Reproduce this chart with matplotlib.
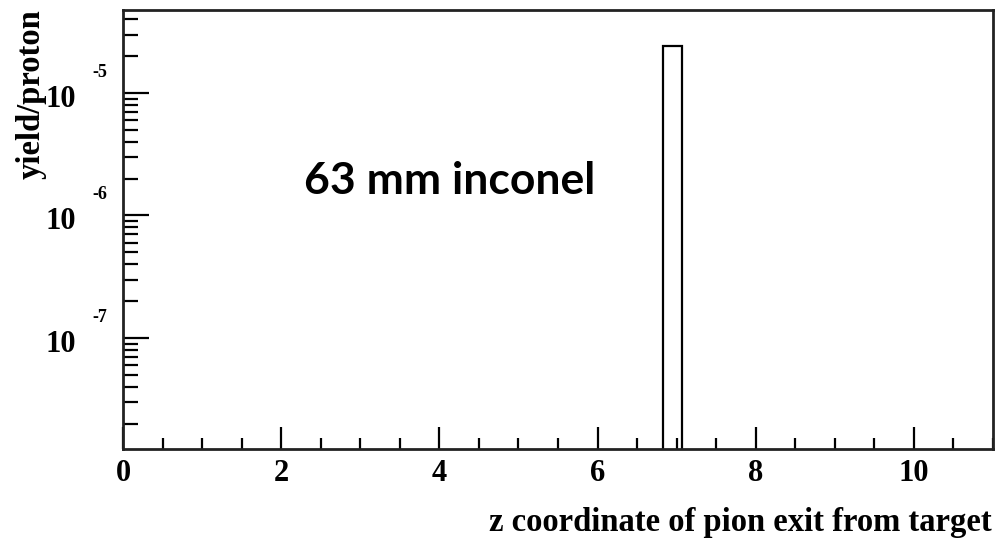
import matplotlib
matplotlib.use("Agg")
import matplotlib.pyplot as plt
import matplotlib.transforms as mtransforms
import numpy as np

# ---- data ----
bin_edges = [6.83, 7.07]
bin_values = [2.42e-5]
x_major_ticks = [0, 2, 4, 6, 8, 10]
x_tick_labels = ["0", "2", "4", "6", "8", "10"]
y_decades = [-7, -6, -5]
annotation = "63 mm inconel"
x_label = "z coordinate of pion exit from target"
y_label = "yield/proton"

W, H = 997, 543
fig = plt.figure(figsize=(W / 100, H / 100), dpi=100)
ax = fig.add_axes([123 / W, 1 - 449 / H, (993 - 123) / W, (449 - 10) / H])

ax.set_xlim(0, 11)
ax.set_ylim(1.24e-8, 4.76e-5)
ax.set_yscale("log")

# histogram outline
ax.stairs(bin_values, bin_edges, baseline=1e-12, fill=False, color="black", linewidth=1.6)

for s in ax.spines.values():
    s.set_linewidth(2.0)
    s.set_color("#222222")

serif = "Liberation Serif"

# x ticks
ax.set_xticks(x_major_ticks)
ax.set_xticks(np.arange(0, 11.01, 0.5), minor=True)
ax.set_xticklabels(x_tick_labels, fontfamily=serif, fontweight="bold", fontsize=22)
ax.tick_params(axis="x", which="major", direction="in", length=16, width=1.6, pad=7, top=False)
ax.tick_params(axis="x", which="minor", direction="in", length=8, width=1.6, top=False)

# y ticks
ax.set_yticks([10.0 ** d for d in y_decades])
minor = []
for d in range(-8, -4):
    for m in range(2, 10):
        v = m * 10.0 ** d
        if 1.24e-8 <= v <= 4.76e-5:
            minor.append(v)
ax.set_yticks(minor, minor=True)
ax.set_yticklabels([])
ax.set_yticklabels([], minor=True)
ax.tick_params(axis="y", which="major", direction="in", length=19, width=1.6, right=False)
ax.tick_params(axis="y", which="minor", direction="in", length=11, width=1.6, right=False)

# y tick labels: "10" with exponent
trans = mtransforms.blended_transform_factory(fig.transFigure, ax.transData)
for d in y_decades:
    ax.text(76 / W, 10.0 ** (d - 0.05), "10", transform=trans, ha="right", va="center",
            fontfamily=serif, fontweight="bold", fontsize=22)
    ax.text(107 / W, 10.0 ** (d + 0.17), f"-{abs(d)}", transform=trans, ha="right", va="center",
            fontfamily=serif, fontweight="bold", fontsize=13)

# annotation
ax.text(304 / W, 1 - 181 / H, annotation, transform=fig.transFigure, ha="left", va="center",
        fontfamily="Lato", fontweight="bold", fontsize=32)

# axis labels
fig.text(992 / W, 1 - 523 / H, x_label, ha="right", va="center",
         fontfamily=serif, fontweight="bold", fontsize=23.5)
fig.text(31 / W, 1 - 9 / H, y_label, ha="center", va="top", rotation=90,
         fontfamily=serif, fontweight="bold", fontsize=23.5)

fig.savefig("out.png", dpi=100)
